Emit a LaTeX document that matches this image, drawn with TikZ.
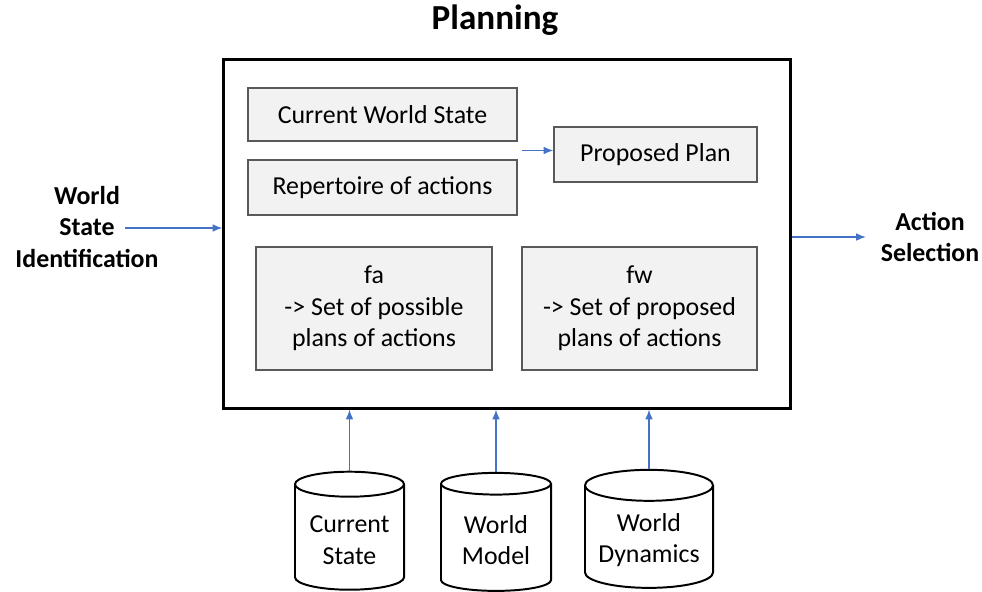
\documentclass[tikz,border=0pt]{standalone}
\usepackage{fontspec}
\setmainfont{Carlito}
\usetikzlibrary{arrows.meta,shapes.geometric,calc}

\definecolor{linkblue}{HTML}{4472C4}
\definecolor{boxfill}{HTML}{F2F2F2}
\definecolor{boxline}{HTML}{595959}

\tikzset{
  inbox/.style={draw=boxline, fill=boxfill, line width=0.8pt, align=center},
  store/.style={cylinder, shape border rotate=90, aspect=0.28, draw, line width=1.4pt, align=center, minimum height=2.95cm},
  link/.style={linkblue, line width=1pt, -{Latex[length=7pt,width=5.5pt]}},
  side/.style={font=\fontsize{18.4}{22.5}\selectfont\bfseries, align=center}
}

\begin{document}
\begin{tikzpicture}[x=0.025cm, y=-0.025cm, font=\fontsize{18.4}{22.5}\selectfont]
\useasboundingbox (0,0) rectangle (982,592);

\node[font=\fontsize{25}{30}\selectfont\bfseries] (title) at (495,20) {Planning};

\node[draw, line width=2.1pt, minimum width=14.15cm, minimum height=8.7cm] (planbox) at (507,234) {};

\node[inbox, minimum width=6.725cm, minimum height=1.325cm] (cws) at (382.5,114.5) {Current World State};
\node[inbox, minimum width=6.725cm, minimum height=1.375cm] (rep) at (382.5,187.5) {Repertoire of actions};
\node[inbox, minimum width=5.075cm, minimum height=1.375cm] (plan) at (655.5,154.5) {Proposed Plan};

\node[inbox, minimum width=5.9cm, minimum height=3.075cm] (fa) at (374,308.5) {fa\\-> Set of possible\\plans of actions};
\node[inbox, minimum width=5.875cm, minimum height=3.075cm] (fw) at (639.5,308.5) {fw\\-> Set of proposed\\plans of actions};

\coordinate (join) at ($(cws.south east)!.5!(rep.north east)$);
\draw[link] ([xshift=3pt]join) -- (join -| plan.west);

% inputs and outputs
\node[side] (wsi) at (87,227) {World\\State\\Identification};
\coordinate (wsin) at (125,228);
\draw[link] (wsin) -- (wsin -| planbox.west);

\node[side] (act) at (930,237) {Action\\Selection};
\coordinate (actin) at (866,237);
\draw[link] (planbox.east |- act.west) -- (actin);

% stores
\node[store, minimum width=2.725cm] (cs) at (349.5,540) {Current\\State};
\node[store, minimum width=2.75cm] (wm) at (496,540) {World\\Model};
\node[store, minimum width=3.2cm] (wd) at (649,540) {World\\Dynamics};

\draw[link] (cs.north) -- (cs.north |- planbox.south);
\draw[link] (wm.north) -- (wm.north |- planbox.south);
\draw[link] (wd.north) -- (wd.north |- planbox.south);

\end{tikzpicture}
\end{document}
